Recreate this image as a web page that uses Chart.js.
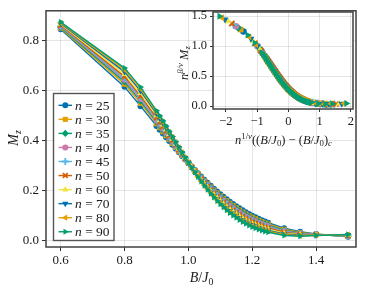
<!DOCTYPE html>
<html><head><meta charset="utf-8">
<script src="https://cdn.jsdelivr.net/npm/chart.js@4.4.1/dist/chart.umd.min.js"></script>
<style>
html,body{margin:0;padding:0;background:#fff;}
#wrap{position:relative;width:366px;height:292px;overflow:hidden;}
#main{position:absolute;left:0;top:0;}
#inset{position:absolute;left:175px;top:0;}
</style></head><body>
<div id="wrap"><canvas id="main" width="366" height="292"></canvas><canvas id="inset" width="191" height="150"></canvas></div>
<script>
// ---------- data ----------
const sizes = [25,30,35,40,45,50,60,70,80,90];
const B = [0.60,0.80,0.85,0.90,0.91,0.92,0.93,0.94,0.95,0.96,0.97,0.98,0.99,1.00,1.01,1.02,1.03,1.04,1.05,1.06,1.07,1.08,1.09,1.10,1.11,1.12,1.13,1.14,1.15,1.16,1.17,1.18,1.19,1.20,1.21,1.22,1.23,1.24,1.25,1.30,1.35,1.40,1.50];
const m25 = [0.845,0.615,0.538,0.459,0.444,0.429,0.414,0.399,0.384,0.369,0.354,0.339,0.325,0.311,0.297,0.283,0.270,0.257,0.244,0.232,0.220,0.208,0.197,0.186,0.176,0.166,0.156,0.147,0.138,0.130,0.122,0.114,0.107,0.100,0.094,0.088,0.082,0.077,0.072,0.050,0.036,0.027,0.016];
const m30 = [0.849,0.626,0.549,0.468,0.452,0.436,0.420,0.405,0.389,0.373,0.357,0.341,0.326,0.311,0.296,0.282,0.268,0.254,0.241,0.228,0.215,0.203,0.192,0.180,0.170,0.160,0.150,0.141,0.132,0.123,0.115,0.107,0.100,0.094,0.088,0.082,0.076,0.071,0.067,0.046,0.033,0.026,0.017];
const m35 = [0.853,0.635,0.558,0.475,0.459,0.442,0.426,0.409,0.393,0.376,0.360,0.343,0.327,0.312,0.296,0.281,0.266,0.252,0.238,0.225,0.212,0.199,0.187,0.176,0.165,0.154,0.144,0.135,0.126,0.118,0.110,0.102,0.095,0.088,0.082,0.077,0.071,0.067,0.062,0.042,0.031,0.025,0.018];
const m40 = [0.856,0.643,0.566,0.481,0.465,0.448,0.431,0.413,0.396,0.379,0.362,0.345,0.328,0.312,0.296,0.280,0.265,0.250,0.235,0.222,0.208,0.195,0.183,0.171,0.161,0.150,0.140,0.130,0.121,0.113,0.105,0.097,0.090,0.084,0.078,0.072,0.067,0.062,0.058,0.039,0.029,0.025,0.019];
const m45 = [0.858,0.649,0.573,0.487,0.470,0.452,0.435,0.417,0.399,0.381,0.364,0.346,0.329,0.312,0.295,0.279,0.263,0.248,0.233,0.219,0.205,0.192,0.180,0.168,0.157,0.146,0.135,0.126,0.117,0.108,0.100,0.093,0.086,0.079,0.074,0.068,0.063,0.059,0.055,0.037,0.028,0.024,0.020];
const m50 = [0.861,0.656,0.579,0.492,0.474,0.457,0.438,0.420,0.402,0.384,0.365,0.347,0.329,0.312,0.295,0.278,0.262,0.246,0.231,0.217,0.203,0.189,0.176,0.164,0.153,0.142,0.132,0.122,0.113,0.105,0.097,0.089,0.082,0.076,0.070,0.065,0.060,0.055,0.051,0.034,0.026,0.024,0.021];
const m60 = [0.865,0.666,0.590,0.501,0.482,0.464,0.445,0.426,0.407,0.387,0.368,0.349,0.331,0.312,0.294,0.277,0.260,0.243,0.228,0.213,0.198,0.184,0.171,0.159,0.147,0.136,0.125,0.116,0.107,0.098,0.090,0.083,0.076,0.069,0.064,0.059,0.054,0.050,0.046,0.030,0.024,0.023,0.022];
const m70 = [0.868,0.675,0.599,0.508,0.489,0.470,0.450,0.430,0.411,0.391,0.371,0.351,0.331,0.313,0.294,0.276,0.258,0.241,0.225,0.210,0.194,0.180,0.166,0.154,0.142,0.131,0.120,0.110,0.101,0.092,0.084,0.077,0.070,0.064,0.059,0.053,0.049,0.045,0.041,0.027,0.022,0.022,0.023];
const m80 = [0.871,0.683,0.607,0.514,0.495,0.475,0.455,0.434,0.414,0.394,0.373,0.353,0.332,0.313,0.293,0.275,0.256,0.239,0.222,0.207,0.191,0.176,0.163,0.150,0.138,0.126,0.115,0.105,0.096,0.087,0.079,0.072,0.065,0.059,0.054,0.049,0.045,0.041,0.038,0.024,0.020,0.022,0.024];
const m90 = [0.874,0.690,0.614,0.520,0.500,0.480,0.459,0.438,0.417,0.396,0.375,0.354,0.333,0.313,0.293,0.274,0.255,0.237,0.220,0.204,0.188,0.173,0.159,0.146,0.134,0.122,0.111,0.101,0.092,0.083,0.075,0.068,0.061,0.055,0.050,0.045,0.041,0.037,0.034,0.021,0.018,0.021,0.025];
const series = [m25,m30,m35,m40,m45,m50,m60,m70,m80,m90];
const xTicksMain = [0.6,0.8,1.0,1.2,1.4];
const yTicksMain = [0.0,0.2,0.4,0.6,0.8];
const xTicksInset = [-2,-1,0,1,2];
const yTicksInset = [0.0,0.5,1.0,1.5];
// scaling-collapse parameters used for the inset
const Bc = 1.088, invNu = 0.335, betaNu = 0.12;

// ---------- styles ----------
const colors = ['#0072B2','#E69F00','#009E73','#CC79A7','#56B4E9','#D55E00','#F0E442','#0072B2','#E69F00','#009E73'];
const markers = [
  {s:'circle',rot:0,r:3,bw:0},{s:'rect',rot:0,r:3.6,bw:0},{s:'rectRot',rot:0,r:3.6,bw:0},
  {s:'circle',rot:0,r:3,bw:0},{s:'cross',rot:0,r:3.4,bw:1.8},{s:'crossRot',rot:0,r:3.4,bw:1.8},
  {s:'triangle',rot:0,r:3.6,bw:0},{s:'triangle',rot:180,r:3.6,bw:0},{s:'triangle',rot:270,r:3.6,bw:0},{s:'triangle',rot:90,r:3.6,bw:0}
];
const SERIF = '"Liberation Serif","DejaVu Serif",serif';
const TXT = '#1a1a1a';
const GRID = 'rgba(0,0,0,0.1)';

function drawRich(ctx, parts, x, y, fs, align){
  const segs = parts.map(p=>{
    const size = (p.sub||p.sup) ? fs*0.7 : fs;
    const font = (p.i?'italic ':'') + size + 'px ' + SERIF;
    ctx.font = font;
    return {t:p.t, font, w:ctx.measureText(p.t).width, dy: p.sub ? fs*0.22 : (p.sup ? -fs*0.38 : 0)};
  });
  const total = segs.reduce((a,s)=>a+s.w,0);
  let cx = align==='left' ? x : x - total/2;
  ctx.textBaseline = 'alphabetic';
  ctx.textAlign = 'left';
  for(const s of segs){ ctx.font = s.font; ctx.fillText(s.t, cx, y + fs*0.33 + s.dy); cx += s.w; }
}
function mark(ctx, i, x, y){
  const m = markers[i];
  ctx.save();
  ctx.fillStyle = colors[i]; ctx.strokeStyle = colors[i]; ctx.lineWidth = m.bw;
  if (Chart.helpers && Chart.helpers.drawPoint) {
    Chart.helpers.drawPoint(ctx, {pointStyle:m.s, rotation:m.rot, radius:m.r, borderWidth:m.bw}, x, y);
  } else { ctx.beginPath(); ctx.arc(x,y,m.r,0,Math.PI*2); ctx.fill(); }
  ctx.restore();
}

const framePlugin = {
  id:'frame',
  beforeDraw(chart, args, opts){
    if (opts.bg){ const a=chart.chartArea, c=chart.ctx; c.save(); c.fillStyle='#fff'; c.fillRect(a.left,a.top,a.right-a.left,a.bottom-a.top); c.restore(); }
  },
  afterDraw(chart){
    const a=chart.chartArea, c=chart.ctx;
    c.save(); c.strokeStyle='#404040'; c.lineWidth=1.5;
    c.strokeRect(a.left,a.top,a.right-a.left,a.bottom-a.top); c.restore();
  }
};

function tickScale(arr){ return (s)=>{ s.ticks = arr.map(v=>({value:v})); }; }

// ---------- main chart ----------
const mainDatasets = series.map((vals,i)=>({
  label:'n = '+sizes[i],
  data: B.map((b,j)=>({x:b, y:vals[j]})),
  borderColor: colors[i], backgroundColor: colors[i],
  borderWidth:1.4, pointStyle: markers[i].s, pointRotation: markers[i].rot,
  pointRadius: markers[i].r, pointBorderWidth: markers[i].bw, pointBorderColor: colors[i],
  pointBackgroundColor: colors[i], tension:0, order: 10 - i
}));

const mainLabels = {
  id:'mainLabels',
  afterDraw(chart){
    const c = chart.ctx;
    c.save(); c.fillStyle = TXT;
    drawRich(c, [{t:'B',i:true},{t:'/'},{t:'J',i:true},{t:'0',sub:true}], 201.5, 277, 14);
    c.translate(13, 138); c.rotate(-Math.PI/2);
    drawRich(c, [{t:'M',i:true},{t:'z',i:true,sub:true}], 0, 0, 14);
    c.restore();
    // legend
    c.save();
    const L=53.5, T=93.5, R=114, Bt=240.5;
    c.fillStyle='#fff'; c.fillRect(L,T,R-L,Bt-T);
    c.strokeStyle='#555'; c.lineWidth=1.4; c.strokeRect(L,T,R-L,Bt-T);
    for(let i=0;i<sizes.length;i++){
      const y = 105.3 + i*14.05;
      c.strokeStyle = colors[i]; c.lineWidth = 1.4;
      c.beginPath(); c.moveTo(58.5,y); c.lineTo(72,y); c.stroke();
      mark(c, i, 65.3, y);
      c.fillStyle = TXT;
      drawRich(c, [{t:'n',i:true},{t:' = '+sizes[i]}], 75, y, 13.5, 'left');
    }
    c.restore();
  }
};

new Chart(document.getElementById('main'), {
  type:'line',
  data:{datasets: mainDatasets},
  options:{
    responsive:false, animation:false, devicePixelRatio:1,
    layout:{padding:{top:9,right:10,left:0,bottom:0}},
    plugins:{legend:{display:false}, tooltip:{enabled:false}, frame:{bg:false}},
    scales:{
      x:{type:'linear', min:0.554, max:1.525, afterBuildTicks: tickScale(xTicksMain),
        afterFit:(s)=>{s.height=45;},
        ticks:{callback:(v)=>Number(v).toFixed(1), font:{family:SERIF,size:13}, color:TXT, padding:2, maxRotation:0, autoSkip:false},
        grid:{color:GRID, tickColor:'#333', tickLength:4, lineWidth:1}, border:{display:false}},
      y:{type:'linear', min:-0.025, max:0.919, afterBuildTicks: tickScale(yTicksMain),
        afterFit:(s)=>{s.width=46;},
        ticks:{callback:(v)=>Number(v).toFixed(1), font:{family:SERIF,size:13}, color:TXT, padding:3, autoSkip:false},
        grid:{color:GRID, tickColor:'#333', tickLength:4, lineWidth:1}, border:{display:false}}
    }
  },
  plugins:[framePlugin, mainLabels]
});

// ---------- inset ----------
const insetDatasets = series.map((vals,i)=>{
  const sx = Math.pow(sizes[i], invNu), sy = Math.pow(sizes[i], betaNu);
  return {
    label:'n = '+sizes[i],
    data: B.map((b,j)=>({x: sx*(b-Bc), y: sy*vals[j]})),
    showLine:false, backgroundColor: colors[i], borderColor: colors[i],
    pointStyle: markers[i].s, pointRotation: markers[i].rot,
    pointRadius: markers[i].r*1.1, pointBorderWidth: markers[i].bw, order: 10 - i
  };
});
const insetLabels = {
  id:'insetLabels',
  afterDraw(chart){
    const c = chart.ctx;
    c.save(); c.fillStyle = TXT;
    drawRich(c, [{t:'n',i:true},{t:'1/',sup:true},{t:'ν',i:true,sup:true},{t:'(('},{t:'B',i:true},{t:'/'},{t:'J',i:true},{t:'0',sub:true},{t:') − ('},{t:'B',i:true},{t:'/'},{t:'J',i:true},{t:'0',sub:true},{t:')'},{t:'c',i:true,sub:true}], 108.5, 139.5, 12.5);
    c.translate(8.5, 63); c.rotate(-Math.PI/2);
    drawRich(c, [{t:'n',i:true},{t:'β/ν',i:true,sup:true},{t:' '},{t:'M',i:true},{t:'z',i:true,sub:true}], 0, 0, 12.5);
    c.restore();
  }
};
new Chart(document.getElementById('inset'), {
  type:'scatter',
  data:{datasets: insetDatasets},
  options:{
    responsive:false, animation:false, devicePixelRatio:1,
    layout:{padding:{top:12,right:13,left:0,bottom:0}},
    plugins:{legend:{display:false}, tooltip:{enabled:false}, frame:{bg:true}},
    scales:{
      x:{type:'linear', min:-2.41, max:2.07, afterBuildTicks: tickScale(xTicksInset),
        afterFit:(s)=>{s.height=41;},
        ticks:{callback:(v)=> v<0 ? '−'+Math.abs(v) : String(v), font:{family:SERIF,size:12.5}, color:TXT, padding:2, maxRotation:0, autoSkip:false},
        grid:{color:GRID, tickColor:'#333', tickLength:3, lineWidth:1}, border:{display:false}},
      y:{type:'linear', min:-0.05, max:1.57, afterBuildTicks: tickScale(yTicksInset),
        afterFit:(s)=>{s.width=38;},
        ticks:{callback:(v)=>Number(v).toFixed(1), font:{family:SERIF,size:12.5}, color:TXT, padding:3, autoSkip:false},
        grid:{color:GRID, tickColor:'#333', tickLength:3, lineWidth:1}, border:{display:false}}
    }
  },
  plugins:[framePlugin, insetLabels]
});
</script>
</body></html>
